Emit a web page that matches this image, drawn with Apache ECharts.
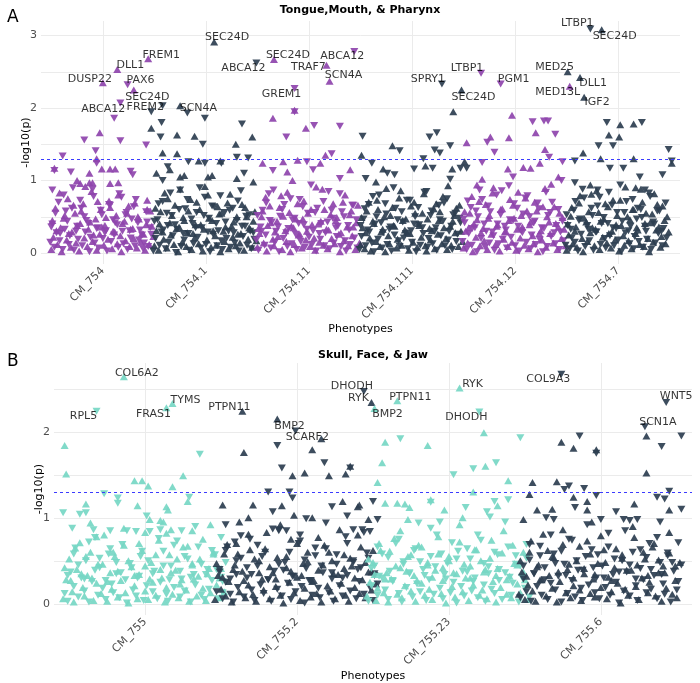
<!DOCTYPE html>
<html>
<head>
<meta charset="utf-8">
<title>Tongue / Skull phenotype Manhattan plots</title>
<script src="https://cdn.jsdelivr.net/npm/echarts@6/dist/echarts.min.js"></script>
<style>
html, body { margin: 0; padding: 0; background: #fff; }
#chart { width: 700px; height: 683px; }
</style>
</head>
<body>
<div id="chart"></div>
<script>
// phenotype groups (x axis)
const phenoA = ['CM_754', 'CM_754.1', 'CM_754.11', 'CM_754.111', 'CM_754.12', 'CM_754.7']
const phenoB = ['CM_755', 'CM_755.2', 'CM_755.23', 'CM_755.6']
const yTicksA = [0, 1, 2, 3]
const yTicksB = [0, 1, 2]
const threshold = 1.3

// shared SNP positions inside a phenotype block (same SNP set per phenotype)
const posUpA = [-.50,-.48,-.46,-.44,-.41,-.40,-.38,-.35,-.34,-.31,-.30,-.27,-.26,-.23,-.22,-.19,-.18,-.15,-.14,-.11,-.10,-.07,-.06,-.03,-.02,.01,.02,.05,.06,.09,.10,.13,.14,.17,.18,.21,.22,.25,.26,.29,.30,.33,.34,.37,.38,.41,.42,.45,.46,.49,
  -.49,-.45,-.42,-.37,-.33,-.285,-.25,-.21,-.17,-.125,-.09,-.05,-.01,.03,.07,.115,.15,.19,.235,.27,.31,.35,.395,.43,.475]
const posDnA = [-.51,-.49,-.47,-.45,-.43,-.42,-.39,-.37,-.36,-.33,-.32,-.29,-.28,-.25,-.24,-.21,-.20,-.17,-.16,-.13,-.12,-.09,-.08,-.05,-.04,-.01,0,.03,.04,.07,.08,.11,.12,.15,.16,.19,.20,.23,.24,.27,.28,.31,.32,.35,.36,.39,.40,.43,.44,.47,
  -.50,-.46,-.415,-.38,-.345,-.30,-.26,-.22,-.18,-.14,-.10,-.06,-.02,.02,.06,.10,.14,.18,.22,.26,.30,.34,.38,.42,.46]
const posUpB = [-.54,-.52,-.50,-.48,-.47,-.45,-.43,-.41,-.40,-.38,-.36,-.34,-.32,-.31,-.29,-.27,-.25,-.23,-.22,-.20,-.18,-.16,-.14,-.13,-.11,-.09,-.07,-.05,-.04,-.02,0,.02,.04,.05,.07,.09,.11,.13,.14,.16,.18,.20,.22,.23,.25,.27,.29,.31,.32,.34,.36,.38,.40,.41,.43,.45,.47,.49,.50,.52,
  -.53,-.49,-.46,-.42,-.39,-.35,-.32,-.28,-.25,-.21,-.18,-.14,-.11,-.07,-.04,0,.03,.07,.10,.14,.17,.21,.24,.28,.31,.35,.38,.42,.45,.49]
const posDnB = [-.53,-.51,-.49,-.47,-.46,-.44,-.42,-.40,-.39,-.37,-.35,-.33,-.31,-.30,-.28,-.26,-.24,-.22,-.21,-.19,-.17,-.15,-.13,-.12,-.10,-.08,-.06,-.04,-.03,-.01,.01,.03,.05,.06,.08,.10,.12,.14,.15,.17,.19,.21,.23,.24,.26,.28,.30,.32,.33,.35,.37,.39,.41,.42,.44,.46,.48,.50,.51,.53,
  -.51,-.47,-.44,-.40,-.37,-.33,-.30,-.26,-.23,-.19,-.16,-.12,-.09,-.05,-.02,.02,.05,.09,.12,.16,.19,.23,.26,.30,.33,.37,.40,.44,.47,.51]

// ---- Tongue, Mouth & Pharynx: -log10(p) of SNPs at posUpA / posDnA ----
const a754UpY = [.05,.22,.62,.12,.35,.02,.48,.18,.75,.08,.29,.55,.14,.03,.41,.68,.21,.09,.33,.85,.16,.47,.04,.26,.6,.11,.38,.19,.72,.06,.3,.52,.13,.24,.02,.44,.17,.65,.09,.34,.2,.07,.5,.15,.27,.04,.39,.12,.58,.23,
  .45,.31,.83,.52,.27,.66,.38,.58,.92,.43,.25,.71,.36,.49,.63,.29,.8,.41,.55,.33,.69,.47,.26,.6,.37]
const a754DnY = [.15,.4,.08,.28,.7,.17,.05,.33,.58,.12,.24,.9,.04,.37,.19,.62,.1,.29,.45,.02,.22,.78,.14,.35,.07,.53,.2,.31,.03,.66,.16,.25,.42,.08,.82,.3,.13,.56,.05,.21,.47,.1,.74,.18,.32,.06,.14,.43,.09,.26,
  .36,.55,.27,.8,.44,.62,.3,.73,.5,.41,.88,.34,.59,.28,.67,.46,.39,.77,.53,.31,.64,.42,.25,.57,.35]
const a754_1UpY = [.1,.31,.04,.57,.19,.83,.07,.42,.25,.12,.66,.02,.36,.15,.49,.09,.28,.74,.05,.21,.39,.13,.6,.03,.33,.18,.8,.08,.45,.24,.11,.54,.02,.3,.16,.69,.06,.37,.22,.1,.5,.14,.27,.04,.63,.19,.35,.08,.44,.17,
  .62,.4,.29,.75,.52,.34,.88,.45,.58,.27,.7,.39,.92,.48,.31,.64,.55,.36,.81,.43,.26,.67,.5,.33,.57]
const a754_1DnY = [.03,.2,.46,.11,.29,.71,.06,.38,.15,.52,.24,.01,.33,.87,.09,.18,.61,.27,.04,.41,.13,.56,.22,.07,.35,.77,.12,.48,.02,.26,.64,.1,.31,.17,.05,.43,.2,.59,.08,.28,.14,.72,.03,.37,.23,.51,.11,.3,.06,.19,
  .44,.68,.32,.55,.83,.39,.6,.27,.74,.47,.35,.9,.52,.29,.65,.41,.79,.56,.3,.62,.45,.86,.37,.53,.28]
const a754_11UpY = [.08,.27,.5,.14,.03,.38,.65,.19,.1,.44,.23,.79,.05,.31,.16,.56,.02,.35,.12,.68,.25,.07,.47,.18,.3,.09,.6,.21,.04,.4,.15,.88,.11,.33,.06,.53,.2,.13,.45,.26,.02,.7,.17,.36,.1,.58,.24,.05,.42,.14,
  .34,.58,.77,.42,.29,.63,.51,.84,.37,.47,.26,.72,.55,.39,.91,.44,.6,.32,.68,.49,.28,.8,.53,.36,.66]
const a754_11DnY = [.18,.04,.36,.59,.11,.25,.82,.07,.43,.15,.3,.02,.51,.2,.67,.09,.34,.13,.46,.26,.05,.74,.16,.39,.08,.55,.22,.12,.31,.03,.62,.19,.41,.1,.28,.85,.06,.48,.14,.23,.37,.09,.57,.17,.03,.32,.12,.66,.21,.07,
  .52,.3,.69,.45,.87,.36,.6,.28,.75,.48,.41,.64,.33,.94,.56,.27,.71,.43,.59,.35,.82,.5,.38,.66,.46]
const a754_111UpY = [.12,.35,.06,.58,.21,.03,.44,.16,.73,.09,.29,.5,.02,.24,.13,.63,.38,.07,.19,.86,.11,.32,.47,.04,.27,.15,.7,.08,.41,.22,.55,.1,.03,.34,.18,.61,.06,.26,.45,.13,.78,.2,.05,.37,.11,.52,.28,.09,.66,.16,
  .49,.28,.7,.41,.6,.33,.89,.52,.37,.76,.45,.29,.65,.55,.38,.82,.47,.31,.68,.57,.35,.93,.44,.62,.3]
const a754_111DnY = [.05,.23,.47,.1,.32,.67,.14,.02,.4,.19,.8,.07,.28,.54,.12,.36,.03,.25,.62,.17,.09,.43,.21,.73,.06,.31,.15,.5,.02,.39,.11,.27,.84,.08,.2,.58,.13,.35,.04,.46,.24,.69,.1,.18,.3,.05,.53,.16,.26,.42,
  .38,.61,.29,.78,.5,.42,.68,.33,.9,.46,.57,.27,.73,.4,.63,.35,.85,.52,.3,.66,.44,.75,.37,.55,.48]
const a754_12UpY = [.07,.3,.14,.55,.02,.4,.22,.71,.1,.34,.17,.05,.48,.26,.83,.12,.37,.03,.6,.19,.29,.09,.45,.15,.66,.04,.33,.21,.52,.11,.76,.06,.39,.24,.13,.58,.02,.31,.18,.89,.08,.43,.27,.14,.64,.05,.36,.2,.49,.1,
  .57,.35,.78,.46,.28,.67,.52,.9,.39,.61,.3,.74,.48,.84,.36,.58,.43,.7,.27,.64,.5,.95,.41,.55,.33]
const a754_12DnY = [.16,.42,.05,.27,.63,.11,.35,.02,.5,.2,.74,.08,.3,.14,.57,.24,.04,.4,.13,.86,.19,.32,.07,.46,.22,.68,.1,.37,.03,.28,.54,.15,.79,.06,.25,.44,.12,.61,.18,.02,.34,.09,.52,.23,.7,.13,.38,.05,.29,.17,
  .47,.72,.34,.58,.87,.4,.65,.29,.8,.53,.37,.93,.45,.62,.31,.76,.5,.42,.69,.35,.84,.56,.28,.6,.44]
const a754_7UpY = [.04,.25,.51,.13,.36,.08,.69,.2,.02,.43,.16,.28,.81,.1,.33,.56,.05,.22,.47,.14,.64,.07,.3,.18,.39,.03,.73,.24,.11,.5,.17,.06,.6,.27,.35,.12,.88,.09,.41,.2,.02,.54,.15,.32,.67,.08,.23,.45,.13,.29,
  .4,.63,.3,.79,.48,.57,.35,.86,.44,.68,.27,.73,.52,.38,.91,.46,.6,.32,.7,.55,.42,.82,.36,.65,.5]
const a754_7DnY = [.11,.38,.06,.21,.59,.15,.03,.47,.26,.76,.09,.33,.17,.52,.04,.29,.65,.12,.41,.2,.07,.84,.24,.35,.1,.56,.18,.02,.44,.28,.71,.13,.37,.06,.23,.62,.16,.49,.08,.3,.19,.78,.05,.4,.14,.27,.58,.1,.34,.21,
  .53,.33,.71,.45,.88,.38,.62,.29,.77,.49,.41,.66,.34,.94,.56,.31,.74,.47,.6,.37,.83,.43,.58,.3,.69]

// stronger hits [x, -log10(p)]
const a754Up = [[.44,2.68],[.14,2.53],[0,2.35],[.30,2.25],[-.03,1.66],[-.06,1.30],[-.47,1.17],[-.13,1.10],[-.01,1.16],[.07,1.16],[.12,1.16],[-.25,1.0],[-.22,.96],[-.13,.97],[-.10,.97],[.07,.96],[.15,.97],[.43,.73]]
const a754Dn = [[.24,2.32],[.17,2.07],[.11,1.86],[-.18,1.56],[.17,1.55],[-.07,1.41],[.42,1.49],[-.39,1.34],[-.06,1.24],[-.47,1.14],[-.31,1.12],[.27,1.13],[.29,1.08],[-.49,.87]]
const a754_1Up = [[1.08,2.91],[.75,2.03],[.47,1.72],[.72,1.63],[.89,1.61],[1.29,1.50],[1.45,1.60],[.58,1.38],[.72,1.37],[.93,1.27],[1.14,1.27],[.65,1.15],[.52,1.10],[.75,1.05],[.79,1.07],[1.02,1.05],[1.06,1.07],[1.30,1.03],[1.46,.98]]
const a754_1Dn = [[1.49,2.62],[.47,1.95],[.58,2.03],[.82,1.93],[.99,1.86],[.57,1.80],[1.35,1.78],[.56,1.60],[.97,1.50],[.83,1.26],[.99,1.24],[1.15,1.24],[1.30,1.32],[1.41,1.31],[.63,1.19],[.58,1.0],[1.37,1.10]]
const a754_11Up = [[1.66,2.67],[2.17,2.59],[2.20,2.37],[1.86,1.97],[1.65,1.86],[1.97,1.72],[1.55,1.24],[2.16,1.35],[1.75,1.26],[1.89,1.28],[2.11,1.24],[1.79,1.12],[1.84,1.0],[2.40,1.15]]
const a754_11Dn = [[2.44,2.78],[1.86,2.27],[1.86,1.95],[2.05,1.76],[2.30,1.75],[1.78,1.60],[2.22,1.37],[1.98,1.26],[2.04,1.15],[1.65,1.14],[2.30,1.03]]
const a754_111Up = [[3.48,2.25],[3.40,1.95],[2.51,1.35],[2.81,1.48],[3.13,1.20],[2.72,1.16],[2.65,.98],[3.39,1.16],[3.51,1.26]]
const a754_111Dn = [[3.29,2.33],[2.52,1.61],[2.61,1.24],[2.88,1.41],[3.17,1.60],[3.24,1.66],[3.22,1.42],[3.27,1.38],[3.37,1.48],[3.11,1.30],[3.02,1.16],[3.20,1.17],[2.76,1.10],[2.83,1.08],[2.55,1.03],[3.37,1.02],[3.47,1.17],[3.53,1.17]]
const a754_12Up = [[4.53,2.30],[3.97,1.90],[3.53,1.52],[3.76,1.60],[3.94,1.59],[4.20,1.66],[4.29,1.43],[4.24,1.24],[3.93,1.16],[4.08,1.18],[4.15,1.17],[3.68,1.02],[4.42,1.05],[3.63,.94]]
const a754_12Dn = [[3.67,2.48],[3.86,2.33],[4.17,1.81],[4.32,1.82],[4.28,1.82],[3.73,1.53],[3.80,1.39],[4.39,1.64],[3.68,1.25],[4.33,1.32],[4.46,1.26],[3.98,1.05],[4.45,1.0]]
const a754_7Up = [[4.84,3.08],[4.51,2.50],[4.63,2.42],[4.67,2.15],[5.02,1.77],[5.15,1.78],[4.66,1.38],[5.01,1.60],[4.91,1.63],[4.83,1.30],[5.15,1.30],[5.52,1.24],[4.73,.94],[5.17,.90]]
const a754_7Dn = [[4.73,3.09],[4.89,1.80],[5.23,1.80],[4.58,1.27],[4.81,1.48],[4.95,1.48],[4.92,1.17],[5.05,1.17],[5.21,1.05],[5.43,1.08],[5.49,1.43],[5.52,1.27],[4.80,.87],[5.26,.87],[4.58,.97]]

// annotated genes [gene, x, -log10(p)]
const genesA = [['SEC24D',1.08,2.91],['FREM1',.44,2.68],['DLL1',.14,2.53],['DUSP22',0,2.35],['PAX6',.24,2.32],['SEC24D',.17,2.07],['FREM2',.47,1.95],['ABCA12',.11,1.86],['SCN4A',.82,1.93],['ABCA12',1.49,2.62],['SEC24D',1.66,2.67],['TRAF7',2.17,2.59],['ABCA12',2.44,2.78],['SCN4A',2.20,2.37],['GREM1',1.86,2.27],['LTBP1',4.73,3.09],['SEC24D',4.84,3.08],['SPRY1',3.29,2.33],['LTBP1',3.67,2.48],['SEC24D',3.48,2.25],['PGM1',3.86,2.33],['MED25',4.51,2.50],['DLL1',4.63,2.42],['MED13L',4.53,2.30],['IGF2',4.67,2.15]]

// ---- Skull, Face & Jaw ----
const b755UpY = [.06,.28,.52,.14,.02,.4,.71,.19,.09,.33,.6,.04,.24,.46,.12,.8,.03,.36,.17,.55,.08,.27,.68,.13,.01,.43,.21,.06,.34,.62,.15,.05,.48,.25,.1,.74,.3,.02,.19,.57,.11,.39,.07,.23,.66,.16,.03,.45,.29,.09,.52,.18,.04,.35,.13,.6,.22,.07,.41,.14,
  .42,.27,.65,.35,.55,.3,.78,.46,.26,.6,.38,.88,.5,.33,.7,.44,.29,.57,.4,.82,.36,.52,.28,.67,.47,.32,.75,.41,.58,.3]
const b755DnY = [.12,.03,.37,.2,.65,.08,.3,.15,.5,.02,.26,.77,.1,.42,.18,.05,.58,.23,.13,.35,.07,.69,.28,.01,.47,.16,.09,.32,.55,.04,.21,.84,.14,.38,.06,.25,.61,.11,.03,.44,.19,.73,.08,.29,.15,.52,.02,.34,.22,.66,.1,.05,.4,.17,.27,.57,.06,.31,.13,.48,
  .33,.58,.45,.29,.72,.39,.53,.27,.64,.48,.36,.85,.42,.3,.61,.5,.35,.76,.44,.28,.68,.38,.55,.31,.9,.46,.34,.62,.4,.26]
const b755_2UpY = [.05,.33,.17,.58,.09,.26,.02,.45,.7,.14,.38,.07,.22,.63,.11,.03,.5,.29,.16,.83,.06,.36,.2,.54,.1,.01,.42,.25,.75,.13,.31,.04,.47,.18,.6,.08,.27,.12,.39,.02,.68,.21,.15,.5,.06,.34,.24,.57,.1,.03,.44,.19,.8,.12,.28,.07,.37,.16,.62,.23,
  .47,.31,.69,.4,.58,.27,.81,.52,.36,.64,.43,.29,.92,.55,.38,.7,.33,.49,.26,.77,.45,.6,.35,.86,.41,.53,.3,.66,.48,.37]
const b755_2DnY = [.14,.4,.06,.25,.66,.11,.02,.34,.19,.53,.08,.3,.75,.16,.04,.44,.22,.12,.6,.28,.03,.38,.17,.86,.09,.48,.24,.05,.32,.14,.7,.2,.01,.41,.27,.1,.56,.18,.07,.36,.64,.13,.29,.03,.46,.21,.09,.78,.33,.15,.5,.06,.26,.42,.11,.59,.19,.04,.35,.23,
  .37,.62,.29,.5,.79,.42,.34,.68,.55,.28,.87,.46,.39,.6,.32,.73,.51,.27,.65,.44,.94,.36,.57,.3,.7,.48,.4,.83,.53,.33]
const b755_23UpY = [.09,.25,.48,.04,.18,.62,.13,.36,.02,.29,.76,.11,.42,.07,.21,.55,.15,.33,.03,.68,.24,.1,.45,.17,.05,.39,.58,.12,.27,.01,.5,.2,.08,.35,.72,.14,.3,.04,.44,.22,.63,.1,.16,.37,.06,.53,.26,.02,.41,.19,.85,.11,.32,.07,.47,.23,.13,.6,.28,.05,
  .52,.34,.7,.29,.61,.44,.85,.38,.57,.27,.66,.48,.31,.78,.42,.55,.36,.92,.46,.3,.63,.5,.4,.74,.33,.59,.28,.68,.45,.37]
const b755_23DnY = [.03,.21,.44,.1,.32,.58,.16,.05,.38,.26,.7,.12,.02,.49,.19,.35,.08,.64,.23,.14,.4,.04,.28,.55,.11,.8,.18,.06,.34,.47,.13,.25,.01,.61,.2,.09,.37,.52,.15,.3,.07,.74,.22,.03,.43,.17,.12,.57,.27,.05,.36,.66,.1,.24,.46,.02,.31,.18,.53,.08,
  .41,.66,.3,.54,.27,.75,.46,.36,.62,.49,.33,.88,.43,.58,.29,.71,.52,.38,.64,.26,.8,.47,.35,.6,.4,.95,.31,.56,.44,.69]
const b755_6UpY = [.11,.37,.05,.22,.6,.15,.03,.45,.28,.81,.09,.33,.18,.54,.02,.26,.69,.13,.4,.07,.21,.5,.16,.04,.35,.73,.12,.29,.08,.47,.19,.63,.06,.31,.14,.42,.24,.01,.57,.17,.1,.39,.77,.2,.05,.3,.52,.13,.25,.66,.09,.36,.03,.44,.18,.59,.11,.27,.07,.48,
  .5,.32,.73,.43,.28,.62,.55,.37,.86,.46,.3,.67,.41,.58,.34,.79,.48,.27,.64,.53,.39,.9,.45,.6,.33,.7,.51,.36,.83,.44]
const b755_6DnY = [.07,.29,.14,.51,.03,.35,.2,.67,.1,.42,.05,.24,.58,.16,.32,.02,.46,.12,.75,.27,.08,.39,.18,.04,.55,.22,.63,.13,.3,.06,.44,.19,.82,.1,.34,.25,.01,.5,.15,.37,.09,.6,.21,.04,.41,.28,.13,.7,.17,.33,.06,.48,.23,.11,.56,.02,.38,.16,.26,.45,
  .44,.69,.35,.56,.28,.8,.47,.61,.33,.74,.5,.39,.92,.42,.57,.3,.66,.52,.37,.85,.45,.29,.63,.54,.4,.77,.34,.59,.48,.71]

const b755Up = [[-.14,2.64],[.14,2.28],[.18,2.33],[-.53,1.84],[-.52,1.51],[-.39,1.16],[-.07,1.43],[-.02,1.43],[.02,1.37],[.18,1.36],[.25,1.49],[.28,1.19],[-.05,1.14],[.14,1.13],[.15,1.09],[.03,.98],[.10,.97],[.12,.95],[.43,.92],[-.36,.94],[0,.83],[.17,.86],[.31,.85]]
const b755Dn = [[-.32,2.24],[.36,1.74],[-.54,1.06],[-.43,1.04],[-.39,1.06],[-.27,1.28],[-.18,1.17],[-.18,1.23],[.29,1.24],[.01,1.02],[-.34,.86],[-.48,.88],[-.23,.85],[-.06,.84],[.10,.86],[.24,.85],[.50,.77]]
const b755_2Up = [[.64,2.24],[.87,2.15],[1.16,1.92],[.65,1.76],[1.10,1.79],[1.49,2.34],[.51,1.15],[.71,1.15],[.90,1.14],[.97,1.49],[1.05,1.52],[1.21,1.49],[1.32,1.51],[.98,1.03],[.62,.95],[.68,1.0],[1.10,1.0],[1.30,1.19],[1.40,1.13],[1.41,1.15],[1.35,1.60],[1.47,.98]]
const b755_2Dn = [[.99,2.01],[.87,1.84],[1.18,1.64],[.90,1.58],[1.35,1.58],[1.44,2.47],[.53,.92],[.84,1.07],[.81,1.30],[.95,1.30],[.97,1.23],[1.06,.99],[1.23,1.13],[1.33,1.02],[.59,.72],[1.02,.80],[.88,.85],[.93,.85],[1.50,1.19],[1.53,.98],[1.37,.86],[1.43,.86],[1.48,.84]]
const b755_23Up = [[1.66,2.36],[1.51,2.27],[2.07,2.51],[1.58,1.88],[1.86,1.84],[2.23,1.99],[1.56,1.64],[2.24,1.60],[1.53,1.41],[1.58,1.17],[1.66,1.17],[1.71,1.16],[1.74,1.12],[2.16,1.30],[2.39,1.43],[1.88,1.21],[1.97,1.09],[2.09,1.0],[2.32,1.14],[1.73,.98]]
const b755_23Dn = [[2.20,2.23],[1.68,1.92],[2.47,1.93],[2.16,1.57],[2.31,1.64],[2.03,1.50],[1.88,1.18],[2.11,1.12],[2.25,1.07],[2.30,1.19],[2.39,1.21],[2.27,1.01],[1.80,.94],[1.94,.95]]
const b755_6Up = [[3.30,1.95],[2.74,1.88],[2.82,1.81],[2.97,1.79],[2.55,1.41],[2.71,1.42],[2.53,1.27],[2.82,1.24],[3.30,1.52],[3.45,1.09],[3.22,1.16],[2.91,1.19],[2.91,1.09],[2.58,1.09],[2.68,1.10],[2.94,.95],[2.49,.98]]
const b755_6Dn = [[2.74,2.67],[3.43,2.34],[3.29,2.06],[3.53,1.95],[3.40,1.83],[2.86,1.95],[2.97,1.75],[2.79,1.37],[2.76,1.33],[2.89,1.34],[2.97,1.26],[3.45,1.31],[3.37,1.24],[3.42,1.22],[3.53,1.10],[3.10,1.07],[3.19,.97],[3.15,.98],[3.24,.98],[2.83,1.12],[2.64,1.0],[2.69,.98],[3.0,.98],[3.39,.95]]

const genesB = [['COL6A2',-.14,2.64],['RPL5',-.32,2.24],['FRAS1',.14,2.28],['TYMS',.18,2.33],['PTPN11',.64,2.24],['BMP2',.99,2.01],['SCARF2',1.16,1.92],['DHODH',1.44,2.47],['RYK',1.49,2.34],['PTPN11',1.66,2.36],['BMP2',1.51,2.27],['RYK',2.07,2.51],['DHODH',2.20,2.23],['COL9A3',2.74,2.67],['WNT5',3.43,2.34],['SCN1A',3.29,2.06]]

// label placement (px offset of text centre from its point)
const nudgeA = [[13,-5],[13,-4],[13,-4],[-13,-4],[13,-5],[27,-6],[-6,-5],[-11,-9],[11,-5],[-13,5],[14,-4],[-18,2],[-12,5],[14,-6],[-13,6],[-13,-6],[13,6],[-14,-5],[-14,-5],[12,7],[13,-5],[-13,-5],[13,6],[-12,6],[13,5]]
const nudgeB = [[13,-4],[-13,5],[-13,6],[13,-3],[-13,-4],[-6,-5],[-14,-2],[-12,-5],[-13,-4],[13,-4],[13,6],[13,-4],[-13,5],[-13,5],[10,-6],[13,-5]]

const purple = '#8E44AD', navy = '#2C3E50', teal = '#76D7C4'
const font = 'DejaVu Sans'

function merge(pos, ys, g, hits) {
  const out = []
  const n = Math.min(pos.length, ys.length)
  for (let i = 0; i < n; i++) out.push([g + pos[i], ys[i]])
  return out.concat(hits)
}

function tri(data, color, down, idx) {
  return {
    type: 'scatter', xAxisIndex: idx, yAxisIndex: idx,
    data: data, symbol: 'triangle', symbolSize: [8, 7],
    symbolRotate: down ? 180 : 0,
    itemStyle: { color: color, opacity: 0.92 },
    silent: true, clip: false
  }
}

function labels(list, nudge, idx) {
  return {
    type: 'scatter', xAxisIndex: idx, yAxisIndex: idx, z: 5,
    symbolSize: 1, silent: true, itemStyle: { color: 'rgba(0,0,0,0)' },
    label: { show: true, position: 'inside', formatter: '{b}', fontSize: 11, fontFamily: font, color: '#000',
      textBorderWidth: 0 },
    data: list.map((d, i) => ({ name: d[0], value: [d[1], d[2]], label: { offset: nudge[i] } }))
  }
}

const panelA = [
  [a754UpY, a754DnY, a754Up, a754Dn],
  [a754_1UpY, a754_1DnY, a754_1Up, a754_1Dn],
  [a754_11UpY, a754_11DnY, a754_11Up, a754_11Dn],
  [a754_111UpY, a754_111DnY, a754_111Up, a754_111Dn],
  [a754_12UpY, a754_12DnY, a754_12Up, a754_12Dn],
  [a754_7UpY, a754_7DnY, a754_7Up, a754_7Dn]
]
const panelB = [
  [b755UpY, b755DnY, b755Up, b755Dn],
  [b755_2UpY, b755_2DnY, b755_2Up, b755_2Dn],
  [b755_23UpY, b755_23DnY, b755_23Up, b755_23Dn],
  [b755_6UpY, b755_6DnY, b755_6Up, b755_6Dn]
]

const series = []
panelA.forEach((p, g) => {
  const c = g % 2 === 0 ? purple : navy
  series.push(tri(merge(posUpA, p[0], g, p[2]), c, false, 0))
  series.push(tri(merge(posDnA, p[1], g, p[3]), c, true, 0))
})
panelB.forEach((p, g) => {
  const c = g % 2 === 0 ? teal : navy
  series.push(tri(merge(posUpB, p[0], g, p[2]), c, false, 1))
  series.push(tri(merge(posDnB, p[1], g, p[3]), c, true, 1))
})
// significance line
const cut = {
  silent: true, symbol: 'none', label: { show: false },
  lineStyle: { color: '#3b3bff', type: [3, 3], width: 1 },
  data: [{ yAxis: threshold }]
}
series[0].markLine = cut
series[12].markLine = cut
series.push(labels(genesA, nudgeA, 0))
series.push(labels(genesB, nudgeB, 1))

function xAxis(idx, names, max, gap) {
  const ticks = names.map((n, i) => i)
  return {
    type: 'value', gridIndex: idx, min: -0.6, max: max,
    axisLine: { show: false },
    axisTick: { show: false, customValues: ticks },
    axisLabel: { customValues: ticks, rotate: 45, margin: 5, fontSize: 11, fontFamily: font, color: '#4d4d4d',
      formatter: v => names[Math.round(v)] },
    splitLine: { show: true, lineStyle: { color: '#ebebeb', width: 1 } },
    name: 'Phenotypes', nameLocation: 'middle', nameGap: gap,
    nameTextStyle: { fontSize: 11, fontFamily: font, color: '#000' }
  }
}

function yAxis(idx, min, max, ticks) {
  const grid = []
  for (const t of ticks) { grid.push(t); if (t + 0.5 < max) grid.push(t + 0.5) }
  return {
    type: 'value', gridIndex: idx, min: min, max: max,
    axisLine: { show: false },
    axisTick: { show: false, customValues: grid },
    axisLabel: { customValues: ticks, margin: 4, fontSize: 11, fontFamily: font, color: '#4d4d4d' },
    splitLine: { show: true, lineStyle: { color: '#ebebeb', width: 1 } },
    name: '-log10(p)', nameLocation: 'middle', nameGap: 9, nameMoveOverlap: false,
    nameTextStyle: { fontSize: 11, fontFamily: font, color: '#000' }
  }
}

function text(str, x, y, f, align) {
  return { type: 'text', x: x, y: y, silent: true,
    style: { text: str, font: f, fill: '#000', textAlign: align, align: align, textVerticalAlign: 'middle', verticalAlign: 'middle' } }
}

const chart = echarts.init(document.getElementById('chart'), null, { renderer: 'canvas' })
chart.setOption({
  animation: false,
  backgroundColor: '#fff',
  grid: [
    { left: 41, right: 20, top: 21, height: 243, outerBoundsMode: 'none' },
    { left: 54, right: 8, top: 363, height: 252, outerBoundsMode: 'none' }
  ],
  xAxis: [xAxis(0, phenoA, 5.6, 58), xAxis(1, phenoB, 3.6, 45)],
  yAxis: [yAxis(0, -0.15, 3.2, yTicksA), yAxis(1, -0.13, 2.8, yTicksB)],
  graphic: [
    text('A', 7, 18, '17px ' + font, 'left'),
    text('B', 7, 362, '17px ' + font, 'left'),
    text('Tongue,Mouth, & Pharynx', 360, 10, 'bold 11px ' + font, 'center'),
    text('Skull, Face, & Jaw', 373, 355, 'bold 11px ' + font, 'center')
  ],
  series: series
})
</script>
</body>
</html>
